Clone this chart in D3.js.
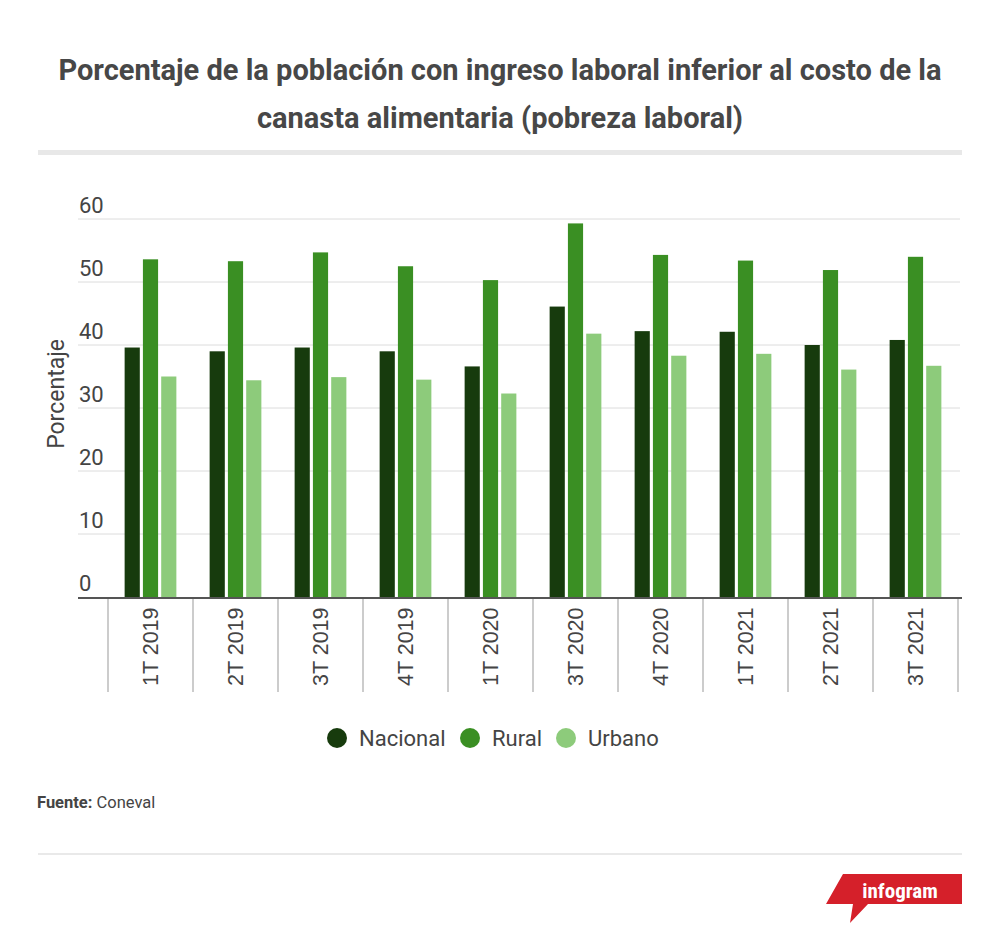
<!DOCTYPE html>
<html>
<head>
<meta charset="utf-8">
<script src="https://cdn.jsdelivr.net/npm/d3@7"></script>
<style>
  body { margin: 0; background: #fff; }
  svg { display: block; font-family: Roboto, "Noto Sans", sans-serif; }
</style>
</head>
<body>
<div id="content"></div>
<script>
const width = 1000;
const height = 943;

const quarters = ['1T 2019', '2T 2019', '3T 2019', '4T 2019', '1T 2020', '3T 2020', '4T 2020', '1T 2021', '2T 2021', '3T 2021'];
const seriesNames = ['Nacional', 'Rural', 'Urbano'];
const nacional = [39.6, 39.0, 39.6, 39.0, 36.6, 46.1, 42.2, 42.1, 40.0, 40.8];
const rural = [53.6, 53.3, 54.7, 52.5, 50.3, 59.3, 54.3, 53.4, 51.9, 54.0];
const urbano = [35.0, 34.4, 34.9, 34.5, 32.3, 41.8, 38.3, 38.6, 36.1, 36.7];
const yTicks = [0, 10, 20, 30, 40, 50, 60];
const colors = ['#173b0d', '#3a8f23', '#8dcb7b'];

const table = quarters.map((q, i) => ({ quarter: q, values: [nacional[i], rural[i], urbano[i]] }));

const svg = d3.select('#content')
  .append('svg')
  .attr('width', width)
  .attr('height', height);

// title
const title = svg.append('text')
  .attr('text-anchor', 'middle')
  .attr('fill', '#474747')
  .attr('font-size', 29)
  .attr('font-weight', 700);
title.append('tspan').attr('x', 500).attr('y', 80)
  .text('Porcentaje de la población con ingreso laboral inferior al costo de la');
title.append('tspan').attr('x', 500).attr('y', 128)
  .text('canasta alimentaria (pobreza laboral)');

svg.append('rect')
  .attr('x', 38).attr('y', 150)
  .attr('width', 924).attr('height', 5)
  .attr('fill', '#e8e8e8');

const x0 = d3.scaleBand()
  .domain(quarters)
  .range([108, 958]);

const x1 = d3.scaleBand()
  .domain(d3.range(seriesNames.length))
  .range([0, x0.bandwidth()])
  .paddingInner(0.17)
  .paddingOuter(0.91);

const y = d3.scaleLinear()
  .domain([0, 60])
  .range([597, 219]);

// gridlines + tick labels
const grid = svg.append('g');
grid.selectAll('line')
  .data(yTicks.filter(t => t > 0))
  .join('line')
  .attr('x1', 78).attr('x2', 960)
  .attr('y1', d => y(d)).attr('y2', d => y(d))
  .attr('stroke', '#dcdcdc')
  .attr('stroke-width', 1);
grid.selectAll('text')
  .data(yTicks)
  .join('text')
  .attr('x', 79)
  .attr('y', d => y(d) - 6)
  .attr('fill', '#444')
  .attr('font-size', 22)
  .text(d => d);

svg.append('text')
  .attr('transform', 'translate(64,394) rotate(-90)')
  .attr('text-anchor', 'middle')
  .attr('fill', '#444')
  .attr('font-size', 23)
  .text('Porcentaje');

// bars
svg.append('g')
  .selectAll('g')
  .data(table)
  .join('g')
  .attr('transform', d => `translate(${x0(d.quarter)},0)`)
  .selectAll('rect')
  .data(d => d.values.map((v, i) => ({ v, i })))
  .join('rect')
  .attr('x', d => x1(d.i))
  .attr('width', x1.bandwidth())
  .attr('y', d => y(d.v))
  .attr('height', d => y(0) - y(d.v))
  .attr('fill', d => colors[d.i]);

// x axis
const xAxis = svg.append('g');
xAxis.append('line')
  .attr('x1', 78).attr('x2', 962)
  .attr('y1', 598).attr('y2', 598)
  .attr('stroke', '#555')
  .attr('stroke-width', 2);
xAxis.selectAll('line.div')
  .data(quarters.concat(['end']))
  .join('line')
  .attr('class', 'div')
  .attr('x1', (d, i) => i < quarters.length ? x0(d) : x0.range()[1])
  .attr('x2', (d, i) => i < quarters.length ? x0(d) : x0.range()[1])
  .attr('y1', 599).attr('y2', 692)
  .attr('stroke', '#999')
  .attr('stroke-width', 1);
xAxis.selectAll('text')
  .data(quarters)
  .join('text')
  .attr('transform', d => `translate(${x0(d) + x0.bandwidth() / 2 + 7.5},686) rotate(-90)`)
  .attr('fill', '#444')
  .attr('font-family', '"Liberation Sans", Arial, sans-serif')
  .attr('font-size', 21.5)
  .text(d => d);

// legend
const legendX = [337, 470, 566];
const legend = svg.append('g')
  .selectAll('g')
  .data(seriesNames)
  .join('g')
  .attr('transform', (d, i) => `translate(${legendX[i]},738)`);
legend.append('circle')
  .attr('r', 10)
  .attr('fill', (d, i) => colors[i]);
legend.append('text')
  .attr('x', 22)
  .attr('y', 8)
  .attr('fill', '#444')
  .attr('font-size', 22)
  .text(d => d);

// source
const src = svg.append('text')
  .attr('x', 37).attr('y', 808)
  .attr('fill', '#444')
  .attr('font-size', 16.5);
src.append('tspan').attr('font-weight', 700).text('Fuente:');
src.append('tspan').text(' Coneval');

svg.append('line')
  .attr('x1', 38).attr('x2', 962)
  .attr('y1', 854).attr('y2', 854)
  .attr('stroke', '#e2e2e2')
  .attr('stroke-width', 1.5);

// infogram logo
svg.append('path')
  .attr('d', 'M843,874 L962,874 L962,904 L868,904 L850,923 L853,904 L826,904 Z')
  .attr('fill', '#d5202a');
svg.append('text')
  .attr('x', 900).attr('y', 898)
  .attr('text-anchor', 'middle')
  .attr('fill', '#fff')
  .attr('font-size', 21)
  .attr('font-weight', 700)
  .attr('font-stretch', 'condensed')
  .text('infogram');
</script>
</body>
</html>
